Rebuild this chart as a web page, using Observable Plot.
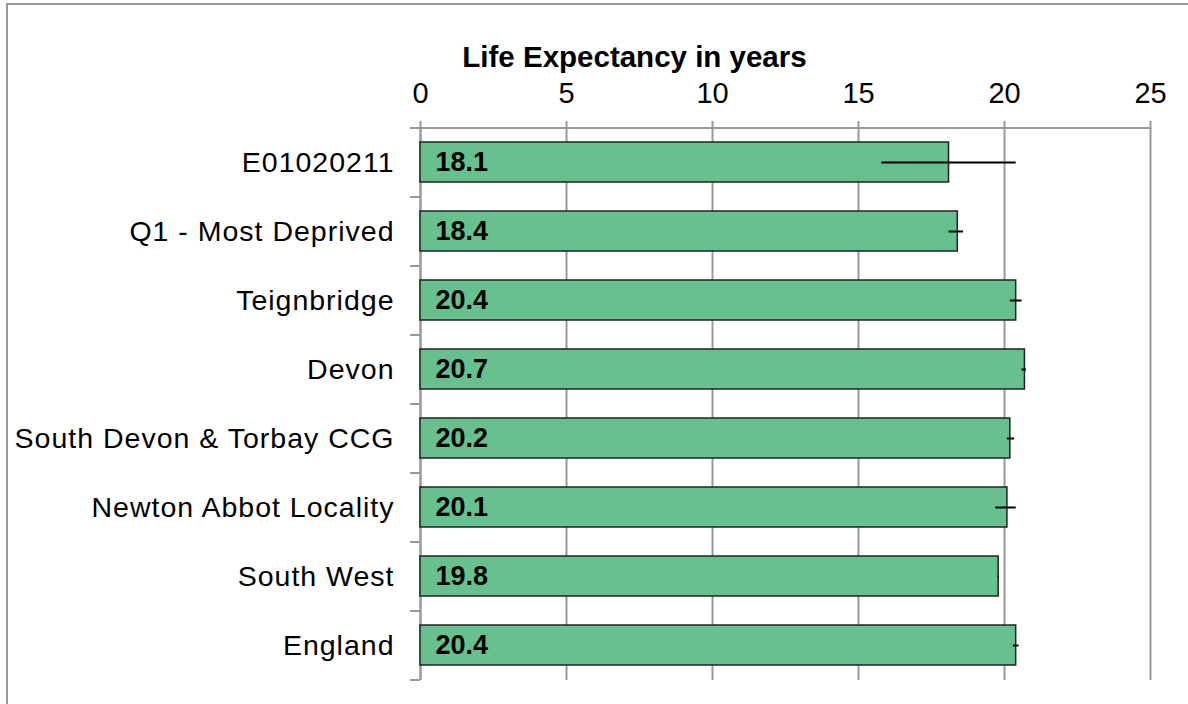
<!DOCTYPE html>
<html>
<head>
<meta charset="utf-8">
<script src="https://cdn.jsdelivr.net/npm/d3@7"></script>
<script src="https://cdn.jsdelivr.net/npm/@observablehq/plot@0.6"></script>
<style>
  html, body { margin: 0; padding: 0; background: #fff; }
  #wrap { position: relative; width: 1188px; height: 704px; overflow: hidden; }
  #border { position: absolute; left: 6px; top: 3px; width: 1300px; height: 800px;
            border-left: 2px solid #999; border-top: 2px solid #999; pointer-events: none; }
  svg { font-family: "Liberation Sans", Arial, sans-serif; }
  svg g[aria-label="y-axis tick label"] text { letter-spacing: 1px; }
</style>
</head>
<body>
<div id="wrap"><div id="border"></div></div>
<script>
const categories = ["E01020211", "Q1 - Most Deprived", "Teignbridge", "Devon",
  "South Devon & Torbay CCG", "Newton Abbot Locality", "South West", "England"];
const values = [18.1, 18.4, 20.4, 20.7, 20.2, 20.1, 19.8, 20.4];
const lower  = [15.8, 18.1, 20.2, 20.6, 20.1, 19.7, 19.78, 20.3];
const upper  = [20.4, 18.6, 20.6, 20.75, 20.35, 20.4, 19.82, 20.5];
const xTicks = [0, 5, 10, 15, 20, 25];
const title = "Life Expectancy in years";

const data = categories.map((name, i) => ({name, value: values[i], lo: lower[i], hi: upper[i]}));
const grey = "#999";

const chart = Plot.plot({
  width: 1188,
  height: 704,
  marginLeft: 420,
  marginRight: 38,
  marginTop: 128,
  marginBottom: 24,
  style: {fontFamily: "'Liberation Sans', Arial, sans-serif", background: "transparent"},
  x: {domain: [0, 25], axis: null},
  y: {domain: categories, paddingInner: 0.42, paddingOuter: 0.21, axis: null},
  marks: [
    Plot.gridX(xTicks, {stroke: grey, strokeOpacity: 1, strokeWidth: 2}),
    Plot.axisX({anchor: "top", ticks: xTicks, tickSize: 8, tickPadding: 18, stroke: grey,
      strokeWidth: 2, fill: "black", fontSize: 29, label: null}),
    // top axis line
    Plot.ruleY([categories[0]], {y: d => d, x1: -0.34, x2: 25, dy: -34.5, stroke: grey, strokeWidth: 2}),
    // left axis line
    Plot.ruleX([0], {stroke: grey, strokeWidth: 2}),
    // category boundary ticks
    Plot.ruleY(categories, {y: d => d, x1: -0.34, x2: 0, dy: -34.5, stroke: grey, strokeWidth: 2}),
    Plot.ruleY([categories[categories.length - 1]], {y: d => d, x1: -0.34, x2: 0, dy: 34.5, stroke: grey, strokeWidth: 2}),
    Plot.axisY({anchor: "left", tickSize: 0, tickPadding: 26, fontSize: 28.5, fill: "black", label: null}),
    Plot.barX(data, {y: "name", x: "value", fill: "#66C18E", stroke: "#222", strokeWidth: 1.5}),
    Plot.ruleY(data, {y: "name", x1: "lo", x2: "hi", stroke: "black", strokeWidth: 2}),
    Plot.text(data, {y: "name", frameAnchor: "left", dx: 15, text: d => d.value.toFixed(1),
      textAnchor: "start", fontSize: 27, fontWeight: "bold", fill: "black"}),
    Plot.text([title], {frameAnchor: "top-left", dx: 214, dy: -82, text: d => d,
      textAnchor: "middle", fontSize: 29.5, fontWeight: "bold", fill: "black"})
  ]
});
document.getElementById("wrap").prepend(chart);
</script>
</body>
</html>
